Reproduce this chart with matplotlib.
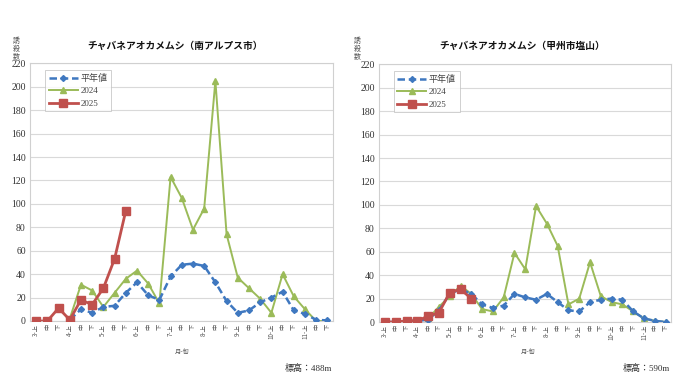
import matplotlib
matplotlib.use("Agg")
import matplotlib.pyplot as plt
import numpy as np

# ---- data ----
months = [3, 4, 5, 6, 7, 8, 9, 10, 11]
periods = ["上", "中", "下"]
x_labels = []
for m in months:
    for i, p in enumerate(periods):
        x_labels.append(f"{m}-{p}" if i == 0 else p)

# 南アルプス市
left_avg_start = 3
left_avg = [1, 10, 7, 12, 13, 24, 33, 22, 18, 38, 48, 49, 47, 33, 17, 7, 9, 16, 20, 25, 9, 6, 1, 0.5]
left_2024_start = 3
left_2024 = [2, 31, 26, 12, 24, 36, 43, 32, 15, 123, 105, 78, 96, 205, 74, 37, 28, 19, 7, 40, 21, 10, 0, 0]
left_2025 = [0, 0, 11, 1, 18, 14, 28, 53, 94]

# 甲州市塩山
right_avg_start = 0
right_avg = [0, 0, 1, 1, 2, 10, 24, 28, 24, 15, 12, 14, 24, 21, 19, 24, 17, 10, 9, 17, 19, 20, 19, 9, 3, 1, 0]
right_2024_start = 0
right_2024 = [0, 0, 1, 1, 3, 13, 22, 31, 24, 11, 9, 21, 59, 45, 99, 84, 65, 15, 20, 51, 22, 17, 15, 9, 3, 1, 0]
right_2025 = [0, 0, 1, 1, 5, 8, 25, 28, 20]

titles = ["チャバネアオカメムシ（南アルプス市）", "チャバネアオカメムシ（甲州市塩山）"]
elevations = ["標高：488m", "標高：590m"]
legend_labels = ["平年値", "2024", "2025"]

JP = ["Noto Sans CJK JP", "DejaVu Sans"]
SERIF = ["Liberation Serif", "Noto Sans CJK JP"]

C_AVG = "#3F78C0"
C_24 = "#9BBB59"
C_25 = "#C0504D"

fig = plt.figure(figsize=(6.8, 3.82), dpi=100)

panels = [
    dict(rect=[30/680, 1-321/382, 303/680, (321-63.3)/382],
         avg=(left_avg_start, left_avg), y24=(left_2024_start, left_2024), y25=left_2025,
         title_x=175/680, ylab_x=16/680, xlab_x=182/680, elev_x=332/680,
         leg=(0.035, 0.99)),
    dict(rect=[379/680, 1-322/382, 292/680, (322-64.3)/382],
         avg=(right_avg_start, right_avg), y24=(right_2024_start, right_2024), y25=right_2025,
         title_x=522/680, ylab_x=357/680, xlab_x=528/680, elev_x=670/680,
         leg=(0.035, 0.99)),
]

for k, p in enumerate(panels):
    ax = fig.add_axes(p["rect"])
    s, v = p["avg"]
    xa = np.arange(s, s + len(v))
    ax.plot(xa, v, color=C_AVG, ls=(0, (3, 1.5)), lw=1.8, marker="D", ms=3,
            label=legend_labels[0], zorder=3)
    s, v = p["y24"]
    xg = np.arange(s, s + len(v))
    ax.plot(xg, v, color=C_24, lw=1.4, marker="^", ms=4.5,
            label=legend_labels[1], zorder=2)
    v = p["y25"]
    xr = np.arange(len(v))
    ax.plot(xr, v, color=C_25, lw=2.0, marker="s", ms=5.5,
            label=legend_labels[2], zorder=4)

    ax.set_xlim(-0.55, 26.5)
    ax.set_ylim(0, 220)
    ax.set_yticks(np.arange(0, 221, 20))
    ax.set_xticks(np.arange(27))
    ax.set_xticklabels(x_labels, rotation=90, fontsize=4.5, family=JP, color="#555555")
    for lab in ax.get_yticklabels():
        lab.set_family(SERIF)
        lab.set_fontsize(7)
        lab.set_color("#333333")
    ax.tick_params(axis="both", length=0, pad=3)
    ax.tick_params(axis="x", pad=2)
    ax.grid(axis="y", color="#D9D9D9", lw=0.8)
    ax.set_axisbelow(True)
    for sp in ax.spines.values():
        sp.set_color("#D0D0D0")
        sp.set_linewidth(0.8)

    leg = ax.legend(loc="upper left", bbox_to_anchor=p["leg"], prop={"family": SERIF, "size": 6.5},
                    frameon=True, fancybox=False, edgecolor="#BBBBBB", handlelength=3.2,
                    handletextpad=0.3, borderpad=0.4, labelspacing=0.45)
    leg.get_frame().set_linewidth(0.6)
    for t in leg.get_texts():
        t.set_color("#444444")

    fig.text(p["title_x"], 1-46/382, titles[k], ha="center", va="center",
             family=JP, fontsize=7, fontweight="bold", color="#111111")
    for j, ch in enumerate("誘殺数"):
        fig.text(p["ylab_x"], 1-(41 + j*8)/382, ch, ha="center", va="center",
                 family=JP, fontsize=5, color="#555555")
    fig.text(p["xlab_x"], 1-352/382, "月-旬", ha="center", va="center",
             family=JP, fontsize=4.5, color="#555555")
    fig.text(p["elev_x"], 1-368/382, elevations[k], ha="right", va="center",
             family=SERIF, fontsize=6.5, color="#333333")

fig.savefig("out.png", dpi=100, facecolor="white")
